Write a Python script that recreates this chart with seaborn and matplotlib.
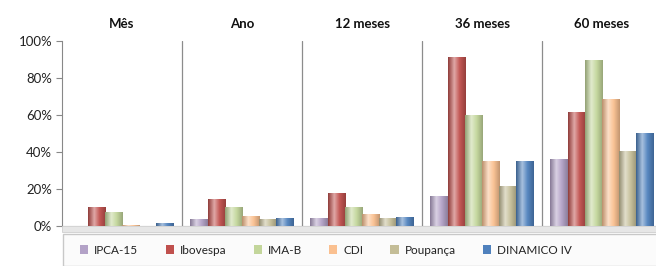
import numpy as np
import pandas as pd
import matplotlib
matplotlib.use("Agg")
import matplotlib.pyplot as plt
import matplotlib.colors as mcolors
from matplotlib.patches import Patch, Rectangle
import seaborn as sns

periods = ["Mês", "Ano", "12 meses", "36 meses", "60 meses"]
series = ["IPCA-15", "Ibovespa", "IMA-B", "CDI", "Poupança", "DINAMICO IV"]
ipca15 = [0.2, 3.6, 4.4, 16.4, 36.4]
ibovespa = [10.2, 14.5, 17.8, 91.5, 61.5]
imab = [7.3, 10.4, 10.2, 59.8, 89.8]
cdi = [0.4, 5.5, 6.4, 35.0, 68.8]
poupanca = [0.1, 3.6, 4.5, 21.6, 40.3]
dinamico = [1.8, 4.2, 5.1, 35.0, 50.3]
colors = ["#b3a2c7", "#c0504d", "#c3d69b", "#fac090", "#c4bd97", "#4f81bd"]
yticks = [0, 20, 40, 60, 80, 100]

values = [ipca15, ibovespa, imab, cdi, poupanca, dinamico]
rows = []
for s, vals in zip(series, values):
    for p, v in zip(periods, vals):
        rows.append({"Período": p, "Série": s, "Valor": v})
df = pd.DataFrame(rows)

sns.set_theme(style="white")
plt.rcParams["font.family"] = ["Lato", "DejaVu Sans"]

W, H = 656, 266
fig = plt.figure(figsize=(W / 100, H / 100), dpi=100)
ax = fig.add_axes([62 / W, (H - 226) / H, 600 / W, (226 - 41) / H])

sns.barplot(data=df, x="Período", y="Valor", hue="Série", order=periods,
            hue_order=series, palette=colors, width=0.86, ax=ax,
            saturation=1, legend=False, edgecolor="none")

def shade(c, f):
    r, g, b = mcolors.to_rgb(c)
    if f < 1:
        return (r * f, g * f, b * f)
    t = f - 1
    return (r + (1 - r) * t, g + (1 - g) * t, b + (1 - b) * t)

for p in list(ax.patches):
    h = p.get_height()
    if h <= 0:
        continue
    fc = p.get_facecolor()
    cmap = mcolors.LinearSegmentedColormap.from_list(
        "g", [(0, shade(fc, 0.75)), (0.35, shade(fc, 1.5)),
              (0.65, shade(fc, 1.05)), (1, shade(fc, 0.78))])
    grad = np.linspace(0, 1, 64).reshape(1, -1)
    x0 = p.get_x()
    w = p.get_width()
    im = ax.imshow(grad, extent=[x0, x0 + w, 0, h], aspect="auto",
                   cmap=cmap, zorder=p.get_zorder() + 0.1, origin="lower")
    im.set_clip_path(p)

ax.set_xlim(-0.5, 4.5)
ax.set_ylim(0, 100)
ax.set_yticks(yticks)
ax.set_yticklabels([f"{t}%" for t in yticks], fontsize=9.5, color="#222222")
ax.tick_params(axis="y", length=4, width=0.8, color="#888888", pad=3, left=True)
ax.set_xticks([])
ax.set_xlabel("")
ax.set_ylabel("")
for s in ["top", "right", "bottom"]:
    ax.spines[s].set_visible(False)
ax.spines["left"].set_color("#888888")
ax.spines["left"].set_linewidth(0.8)
for xv in [0.5, 1.5, 2.5, 3.5]:
    ax.plot([xv, xv], [0, 100], color="#8c8c8c", lw=0.9, zorder=0.5)
ax.axhline(0, color="#9a9a9a", lw=0.8, zorder=0.4)

for i, p in enumerate(periods):
    ax.text(i, 106, p, ha="center", va="bottom", fontsize=9.5,
            fontweight="bold", color="#111111")

# floor strip below zero
fig.patches.append(Rectangle((62 / W, (H - 232) / H), 600 / W, 6 / H,
                             transform=fig.transFigure, facecolor="#e6e6e6",
                             edgecolor="#cfcfcf", lw=0.6, zorder=0))
# legend box
fig.patches.append(Rectangle((63 / W, 0 / H), 600 / W, (H - 234) / H,
                             transform=fig.transFigure, facecolor="#fbfbfb",
                             edgecolor="#c8c8c8", lw=1.0, zorder=0))

handles = [Patch(facecolor=c, edgecolor="none", label=s)
           for c, s in zip(colors, series)]
leg = fig.legend(handles=handles, loc="center", ncol=6,
                 bbox_to_anchor=(326 / W, (H - 250) / H), frameon=False,
                 fontsize=8.5, handlelength=0.7, handleheight=0.7,
                 handletextpad=0.5, columnspacing=2.3)
for t in leg.get_texts():
    t.set_color("#222222")

fig.savefig("out.png", dpi=100)
